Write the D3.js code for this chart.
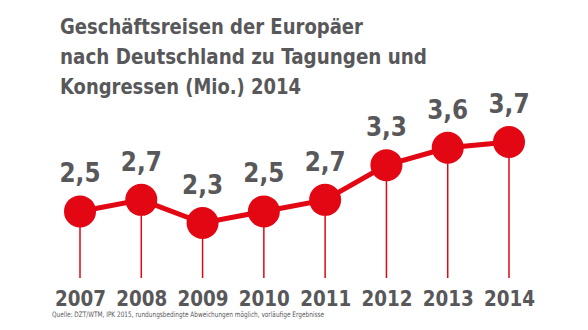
<!DOCTYPE html>
<html>
<head>
<meta charset="utf-8">
<script src="https://cdn.jsdelivr.net/npm/d3@7"></script>
<style>
  body { margin: 0; background: #fff; }
  text { font-family: "DejaVu Sans Condensed", "DejaVu Sans", sans-serif; }
</style>
</head>
<body>
<div id="chart"></div>
<script>
// data
const years = ["2007", "2008", "2009", "2010", "2011", "2012", "2013", "2014"];
const values = [2.5, 2.7, 2.3, 2.5, 2.7, 3.3, 3.6, 3.7];
const titleLines = [
  "Geschäftsreisen der Europäer",
  "nach Deutschland zu Tagungen und",
  "Kongressen (Mio.) 2014"
];
const source = "Quelle: DZT/WTM, IPK 2015, rundungsbedingte Abweichungen möglich, vorläufige Ergebnisse";

// layout
const width = 588, height = 330;
const red = "#e30613", grey = "#58585a";
const titleWidths = [303, 367, 241];

const svg = d3.select("#chart").append("svg")
  .attr("width", width).attr("height", height);

const x = d3.scalePoint().domain(years).range([80, 509]);
const y = d3.scaleLinear().domain([2.3, 3.7]).range([223, 142]);
const stemBottom = 278;

// title
svg.append("g").selectAll("text").data(titleLines).join("text")
  .attr("x", 60).attr("y", (d, i) => 34 + i * 30)
  .attr("fill", grey).attr("font-size", 22).attr("font-weight", "bold")
  .attr("textLength", (d, i) => titleWidths[i]).attr("lengthAdjust", "spacingAndGlyphs")
  .text(d => d);

const pts = years.map((yr, i) => ({year: yr, value: values[i]}));

// stems
svg.append("g").selectAll("line").data(pts).join("line")
  .attr("x1", d => x(d.year)).attr("x2", d => x(d.year))
  .attr("y1", d => y(d.value)).attr("y2", stemBottom)
  .attr("stroke", red).attr("stroke-width", 1.5);

// line
svg.append("path").datum(pts)
  .attr("fill", "none").attr("stroke", red).attr("stroke-width", 5)
  .attr("d", d3.line().x(d => x(d.year)).y(d => y(d.value)));

// dots
svg.append("g").selectAll("circle").data(pts).join("circle")
  .attr("cx", d => x(d.year)).attr("cy", d => y(d.value)).attr("r", 16)
  .attr("fill", red);

// value labels
svg.append("g").selectAll("text").data(pts).join("text")
  .attr("x", d => x(d.year)).attr("y", d => y(d.value) - 29)
  .attr("text-anchor", "middle").attr("fill", grey)
  .attr("font-size", 27).attr("font-weight", "bold")
  .attr("textLength", 41).attr("lengthAdjust", "spacingAndGlyphs")
  .text(d => d3.format(".1f")(d.value).replace(".", ","));

// year axis
const axis = svg.append("g").attr("transform", "translate(0,306)")
  .call(d3.axisBottom(x).tickSize(0).tickPadding(0));
axis.select(".domain").remove();
axis.selectAll("text")
  .attr("dy", 0).attr("fill", grey).attr("font-size", 22)
  .attr("font-weight", "bold")
  .attr("font-family", "'DejaVu Sans Condensed', 'DejaVu Sans', sans-serif")
  .attr("textLength", 51).attr("lengthAdjust", "spacingAndGlyphs");

// source
svg.append("text").attr("x", 52).attr("y", 317)
  .attr("fill", grey).attr("font-size", 7.5)
  .attr("textLength", 272).attr("lengthAdjust", "spacingAndGlyphs")
  .text(source);
</script>
</body>
</html>
